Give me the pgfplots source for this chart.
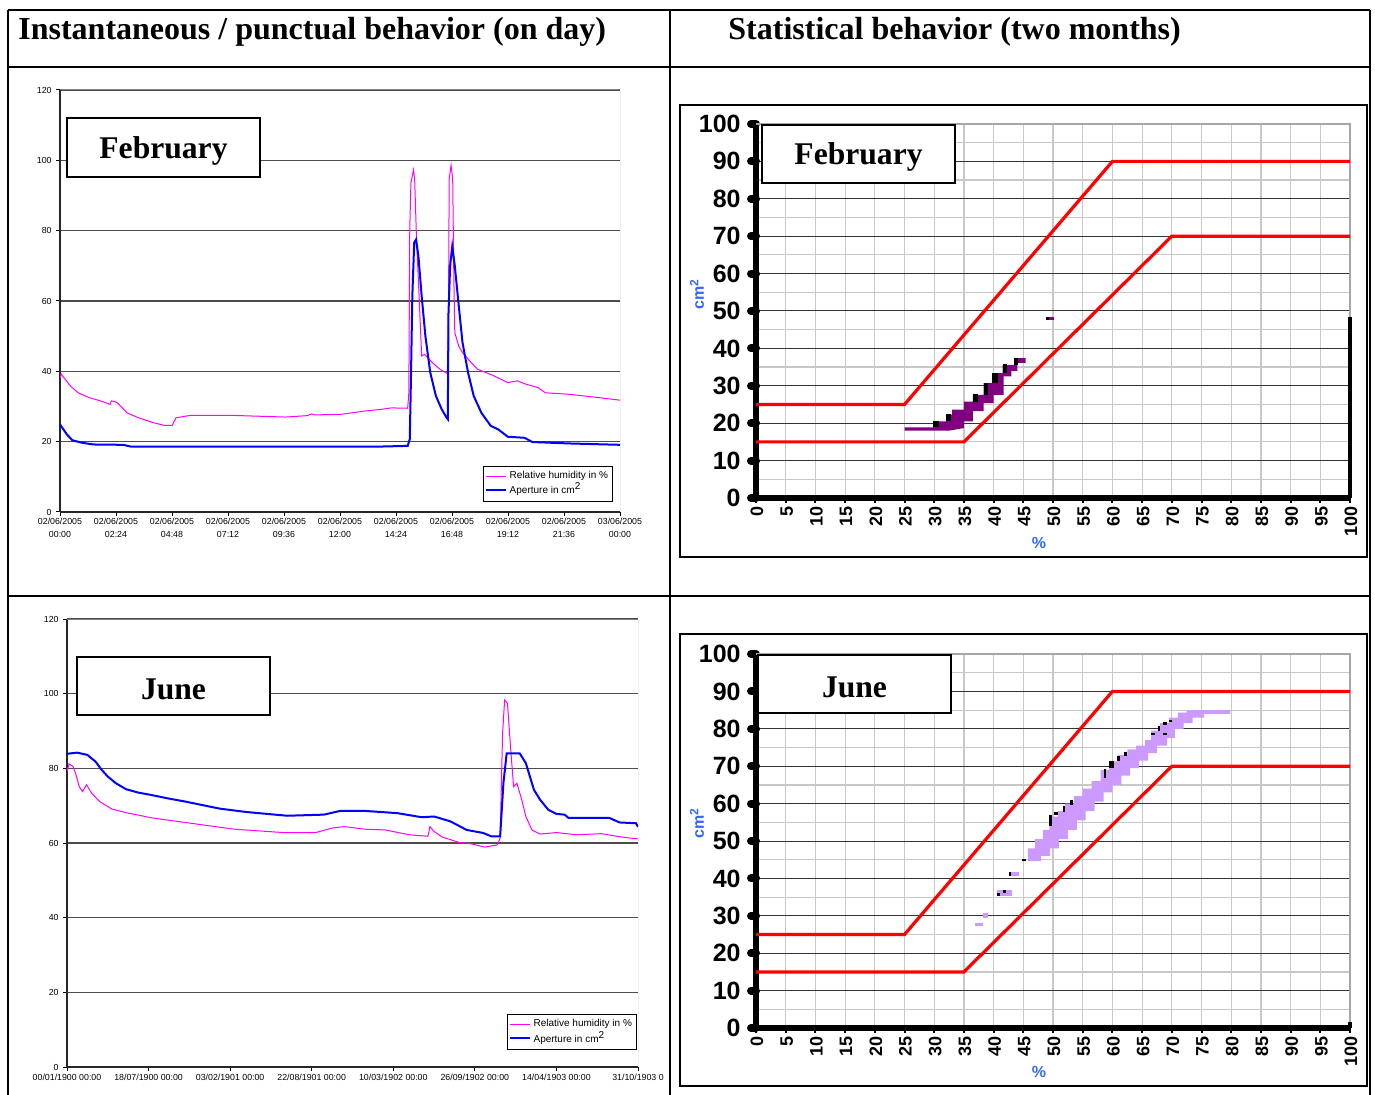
\documentclass[border=0pt]{standalone}
\usepackage{fontspec}
\setmainfont{Liberation Serif}
\newfontfamily\arial{Liberation Sans}
\usepackage{pgfplots}
\pgfplotsset{compat=1.18}
\definecolor{rhpink}{RGB}{255,0,255}
\definecolor{apblue}{RGB}{0,0,255}
\definecolor{lav}{RGB}{204,153,255}
\definecolor{purp}{RGB}{128,0,128}
\definecolor{lblue}{RGB}{51,102,255}
\definecolor{gridlight}{RGB}{200,200,200}
\newcommand{\fsz}[1]{\fontsize{#1pt}{#1pt}\selectfont}
\newcommand{\rect}[5]{\addplot[fill=#1, draw=none, forget plot] coordinates {(#2,#3) (#4,#3) (#4,#5) (#2,#5)};}

\pgfplotsset{
  leftchart/.style={
    scale only axis, anchor=south west,
    axis x line*=bottom, axis y line*=left,
    axis line style={-, black!85, line width=0.6pt},
    ymin=0, ymax=120, ytick={0,20,...,120},
    yticklabels={0,20,40,60,80,100,120},
    ymajorgrids, major grid style={black!70, line width=0.7pt},
    tick align=outside, major tick length=2pt,
    every tick/.style={black, line width=0.5pt},
    yticklabel style={font=\arial\fsz{4.4}, inner sep=1pt, xshift=-1pt},
    legend cell align=left,
    legend image code/.code={\draw[##1] (0pt,0pt) -- (10pt,0pt);},
    legend style={draw=black, line width=0.5pt, font=\arial\fsz{5}, inner sep=1pt,
      row sep=-1.5pt, nodes={inner sep=1.2pt}},
  },
  rightchart/.style={
    scale only axis, anchor=south west, width=297pt, height=187pt,
    xmin=0, xmax=100, ymin=0, ymax=100, clip=false,
    axis x line*=bottom, axis y line*=left,
    axis line style={-, black, line width=2.8pt},
    xtick={0,5,...,100}, ytick={0,10,...,100}, minor ytick={5,15,...,95},
    xticklabels={0,5,10,15,20,25,30,35,40,45,50,55,60,65,70,75,80,85,90,95,100},
    yticklabels={0,10,20,30,40,50,60,70,80,90,100},
    xmajorgrids, ymajorgrids, yminorgrids,
    major x grid style={gridlight, line width=0.6pt},
    major y grid style={black!80, line width=0.5pt},
    minor y grid style={gridlight, line width=0.6pt},
    tick align=outside, major tick length=2.5pt, minor tick length=0pt,
    every major y tick/.style={black, line width=4pt, line cap=round},
    every major x tick/.style={black, line width=1pt},
    yticklabel style={font=\arial\bfseries\fsz{12.5}, inner sep=1.5pt, xshift=-3.5pt},
    xticklabel style={font=\arial\bfseries\fsz{9}, rotate=90, anchor=east, inner sep=1.5pt, yshift=-0.5pt},
  },
}

\begin{document}
\begin{tikzpicture}
\begin{scope}[x=0.5pt,y=0.5pt]
\useasboundingbox (0,0) rectangle (1375,-1095);
\fill[white] (0,0) rectangle (1375,-1095);
\draw[line width=1pt] (8,-10) -- (1370,-10);
\draw[line width=1pt] (8,-10) -- (8,-1100);
\draw[line width=1pt] (1370,-10) -- (1370,-1100);
\draw[line width=1pt] (670,-10) -- (670,-1100);
\draw[line width=1pt] (8,-67) -- (1370,-67);
\draw[line width=1pt] (8,-596) -- (1370,-596);
\node[anchor=base west, inner sep=0pt, font=\bfseries\fsz{16}] at (18,-40) {Instantaneous / punctual behavior (on day)};
\node[anchor=base west, inner sep=0pt, font=\bfseries\fsz{16}] at (728,-40) {Statistical behavior (two months)};
\draw[line width=1pt] (680,-105) rectangle (1367,-557);
\draw[line width=1pt] (680,-634) rectangle (1367,-1086);
\end{scope}

% ---------- February, one day ----------
\begin{axis}[leftchart, at={(30pt,-256pt)}, width=280pt, height=211pt,
  xmin=0, xmax=24,
  xtick={0,2.4,4.8,7.2,9.6,12,14.4,16.8,19.2,21.6,24},
  xticklabels={{02/06/2005\\00:00},{02/06/2005\\02:24},{02/06/2005\\04:48},{02/06/2005\\07:12},{02/06/2005\\09:36},{02/06/2005\\12:00},{02/06/2005\\14:24},{02/06/2005\\16:48},{02/06/2005\\19:12},{02/06/2005\\21:36},{03/06/2005\\00:00}},
  xticklabel style={align=center, font=\arial\fontsize{4.4pt}{6.5pt}\selectfont, inner sep=1pt},
  legend style={at={(0.9875,0.109)}, anchor=north east},
]
\addplot[rhpink, line width=0.5pt] coordinates {
(0,38)(0.05,39.2)(0.45,35.8)(0.78,33.9)(1.26,32.5)(1.74,31.6)(2.15,30.6)(2.2,31.6)(2.35,31.4)(2.47,31)(2.87,28.2)(3.36,26.8)(4.0,25.4)(4.49,24.6)(4.81,24.6)(4.97,26.8)(5.62,27.5)(7.24,27.5)(8.2,27.3)(9.66,27.0)(10.6,27.4)(10.79,27.9)(10.9,27.6)(12.08,27.8)(13.05,28.7)(13.78,29.2)(14.2,29.6)(14.9,29.5)(14.95,33.9)(14.99,80.4)(15.04,93.6)(15.15,97.3)(15.2,94.6)(15.28,77.5)(15.39,61.4)(15.5,44.4)(15.63,44.8)(15.96,42.5)(16.28,40.6)(16.6,39.4)(16.65,56.7)(16.68,94.6)(16.76,98.6)(16.83,94.6)(16.88,66.2)(16.92,51.0)(17.09,47.2)(17.25,45.3)(17.57,42.9)(17.89,40.6)(18.54,38.9)(19.19,36.8)(19.59,37.3)(19.99,36.3)(20.48,35.4)(20.8,33.9)(21.77,33.5)(22.74,32.8)(24,31.8)};
\addlegendentry{Relative humidity in \%}
\addplot[apblue, line width=1pt] coordinates {
(0,24.9)(0.29,22.1)(0.53,20.4)(0.94,19.7)(1.42,19.2)(2.71,19.1)(3.04,18.6)(13.7,18.6)(14.9,18.8)(14.99,20.7)(15.04,37.7)(15.1,61.4)(15.18,76.6)(15.26,77.5)(15.36,72.8)(15.5,61.4)(15.66,50.0)(15.87,39.6)(16.11,33.0)(16.36,29.2)(16.57,26.8)(16.62,26.4)(16.65,56.7)(16.72,70.0)(16.81,75.5)(16.92,70.0)(17.09,58.6)(17.25,48.2)(17.49,39.6)(17.73,33.0)(18.06,28.2)(18.46,24.5)(18.78,23.5)(19.19,21.4)(19.91,21.1)(20.24,19.9)(21.77,19.5)(24,19.1)};
\addlegendentry{Aperture in cm\textsuperscript{2}}
\draw[gray, line width=0.5pt] (rel axis cs:0,1) -- (rel axis cs:1,1) -- (rel axis cs:1,0);
\end{axis}

% ---------- June, one day ----------
\begin{axis}[leftchart, at={(33.5pt,-533.5pt)}, width=285.5pt, height=224pt,
  xmin=0, xmax=7, xtick={0,1,...,7},
  xticklabels={00/01/1900 00:00,18/07/1900 00:00,03/02/1901 00:00,22/08/1901 00:00,10/03/1902 00:00,26/09/1902 00:00,14/04/1903 00:00,31/10/1903 0},
  xticklabel style={font=\arial\fsz{4.4}, inner sep=1.5pt},
  legend style={at={(0.998,0.118)}, anchor=north east},
]
\addplot[rhpink, line width=0.5pt] coordinates {
(0,79.1)(0.025,81.2)(0.075,80.5)(0.11,78.3)(0.15,75.1)(0.19,73.8)(0.24,75.6)(0.3,73.4)(0.4,71.1)(0.55,69.1)(0.75,68.0)(1.05,66.7)(1.55,65.2)(2.05,63.7)(2.45,63.1)(2.65,62.8)(3.05,62.8)(3.25,64.0)(3.4,64.4)(3.65,63.7)(3.9,63.5)(4.2,62.2)(4.425,61.8)(4.45,64.4)(4.5,63.1)(4.6,61.6)(4.8,60.2)(4.95,59.8)(5.125,58.9)(5.275,59.5)(5.31,61.3)(5.34,89.4)(5.365,98.3)(5.4,97.4)(5.44,84.9)(5.475,75.1)(5.515,76.0)(5.575,71.6)(5.625,67.1)(5.7,63.5)(5.8,62.4)(6.0,62.8)(6.25,62.2)(6.55,62.5)(6.8,61.6)(7.0,61.1)};
\addlegendentry{Relative humidity in \%}
\addplot[apblue, line width=1pt] coordinates {
(0,83.9)(0.125,84.2)(0.25,83.6)(0.35,81.8)(0.425,79.6)(0.5,77.8)(0.6,76.0)(0.725,74.4)(0.875,73.5)(1.025,72.9)(1.225,72.0)(1.45,71.1)(1.65,70.2)(1.875,69.2)(2.2,68.3)(2.7,67.3)(3.15,67.6)(3.35,68.6)(3.65,68.6)(4.05,68.0)(4.35,66.9)(4.5,67.1)(4.7,65.8)(4.9,63.5)(5.1,62.7)(5.2,61.8)(5.31,61.8)(5.35,76.0)(5.39,84.0)(5.55,84.0)(5.625,81.4)(5.675,77.8)(5.725,74.2)(5.8,71.6)(5.9,68.9)(6.0,67.8)(6.1,67.6)(6.15,66.7)(6.65,66.7)(6.775,65.5)(6.975,65.3)(7.0,64.3)};
\addlegendentry{Aperture in cm\textsuperscript{2}}
\draw[gray, line width=0.5pt] (rel axis cs:0,1) -- (rel axis cs:1,1) -- (rel axis cs:1,0);
\end{axis}

% ---------- February, statistics ----------
\begin{axis}[rightchart, at={(378pt,-249pt)}]
\draw[gray!70, line width=1pt] (rel axis cs:0,1) -- (rel axis cs:1,1) -- (rel axis cs:1,0);
\addplot[fill=purp, draw=none] coordinates {(25,18)(32.5,18)(35,18.7)(35,20.5)(36.5,20.5)(36.5,23.2)(38.3,23.2)(38.3,25.4)(40,25.4)(40,27.6)(41.7,27.6)(41.7,32.5)(43,32.5)(43,34)(44,34)(44,36.1)(45.4,36.1)(45.4,37.4)(43.5,37.4)(43.5,35.6)(41.5,35.6)(41.5,33.4)(39.8,33.4)(39.8,30.7)(38.3,30.7)(38.3,27.6)(36.5,27.6)(36.5,25.8)(35,25.8)(35,23.6)(33,23.6)(33,22.3)(32,22.3)(32,20.5)(29.8,20.5)(29.8,18.9)(25,18.9)};
\rect{black}{29.8}{18.9}{30.8}{20.6}
\rect{black}{32}{20.5}{32.9}{22.4}
\rect{black}{36.5}{25.8}{37.4}{27.7}
\rect{black}{38.3}{27.6}{39.1}{30.8}
\rect{black}{39.8}{30.7}{40.7}{33.5}
\rect{black}{41.5}{33.4}{42.3}{35.7}
\rect{black}{43.5}{35.6}{44.1}{37.5}
\rect{purp}{48.9}{47.7}{50.2}{48.4}
\rect{black}{48.9}{47.7}{49.3}{48.4}
\addplot[red, line width=1.6pt] coordinates {(0,25)(25,25)(60,90)(100,90)};
\addplot[red, line width=1.6pt] coordinates {(0,15)(35,15)(70,70)(100,70)};
\addplot[black, line width=1.6pt] coordinates {(100,48.5)(100,0)};
\end{axis}

% ---------- June, statistics ----------
\begin{axis}[rightchart, at={(378pt,-514pt)}]
\draw[gray!70, line width=1pt] (rel axis cs:0,1) -- (rel axis cs:1,1) -- (rel axis cs:1,0);
\addplot[fill=lav, draw=none] coordinates {(45.8,45)(45.8,48)(47,48)(47,50.5)(48.3,50.5)(48.3,53)(49.4,53)(49.4,56.5)(50.8,56.5)(50.8,58)(52,58)(52,60)(53.5,60)(53.5,62)(55,62)(55,64)(56.5,64)(56.5,66)(58,66)(58,69)(59.5,69)(59.5,71.3)(61,71.3)(61,73)(62.5,73)(62.5,74.5)(64,74.5)(64,75.5)(65.5,75.5)(65.5,77)(66.5,77)(66.5,79.5)(68,79.5)(68,81.5)(69.5,81.5)(69.5,83)(71,83)(71,84.3)(72.5,84.3)(72.5,85)(79.8,85)(79.8,84)(75.4,84)(75.4,83)(73.5,83)(73.5,81.5)(72,81.5)(72,80)(70.5,80)(70.5,77.5)(69.2,77.5)(69.2,75.5)(67.5,75.5)(67.5,73.5)(66,73.5)(66,71.5)(64.5,71.5)(64.5,69.5)(63,69.5)(63,67.5)(61.5,67.5)(61.5,65)(60,65)(60,63)(58.5,63)(58.5,60.5)(57,60.5)(57,58)(55.5,58)(55.5,55.5)(54,55.5)(54,53)(52.5,53)(52.5,50.5)(51,50.5)(51,48)(49.5,48)(49.5,46)(48,46)(48,44.6)(45.8,44.6)};
\rect{lav}{36.8}{27.4}{38.2}{28.1}
\rect{lav}{38.2}{29.4}{39.1}{30.7}
\rect{lav}{40.5}{35.4}{43.1}{36.8}
\rect{black}{40.5}{35.4}{41.1}{36.1}
\rect{black}{41.6}{36.1}{42.1}{36.8}
\rect{lav}{42.6}{40.6}{44.3}{41.6}
\rect{black}{42.6}{40.6}{43.0}{41.6}
\rect{black}{44.8}{44.6}{45.4}{45.2}
\rect{black}{49.4}{53.9}{49.9}{57}
\rect{black}{50.2}{57}{50.9}{57.7}
\rect{black}{51.7}{57.7}{52.1}{59.4}
\rect{black}{52.8}{59.7}{53.3}{61}
\rect{black}{58.5}{66.8}{58.9}{69.2}
\rect{black}{59.5}{69.5}{60.2}{71.3}
\rect{black}{60.7}{71.3}{61.2}{72.8}
\rect{black}{61.9}{72.8}{62.4}{73.7}
\rect{black}{66.5}{78.4}{67.1}{79}
\rect{black}{67.6}{79.3}{68}{80.8}
\rect{black}{68.6}{81}{69.2}{81.7}
\rect{black}{68.6}{78.4}{69.2}{79}
\rect{black}{69.6}{81.7}{70.1}{82.4}
\addplot[red, line width=1.6pt] coordinates {(0,25)(25,25)(60,90)(100,90)};
\addplot[red, line width=1.6pt] coordinates {(0,15)(35,15)(70,70)(100,70)};
\addplot[black, line width=1.6pt] coordinates {(100,1.5)(100,0)};
\end{axis}

\begin{scope}[x=0.5pt,y=0.5pt]
\draw[line width=1pt, fill=white] (67,-118) rectangle (260,-177);
\node[font=\bfseries\fsz{15.8}] at (163.5,-151) {February};
\draw[line width=1pt, fill=white] (77,-657) rectangle (270,-715);
\node[font=\bfseries\fsz{15.8}] at (173.5,-689) {June};
\draw[line width=1pt, fill=white] (762,-125) rectangle (955,-183);
\node[font=\bfseries\fsz{15.8}] at (858.5,-157) {February};
\draw[line width=1pt, fill=white] (758,-655) rectangle (951,-713);
\node[font=\bfseries\fsz{15.8}] at (854.5,-687) {June};
\node[rotate=90, text=lblue, font=\arial\bfseries\fsz{8}] at (697,-294) {cm\textsuperscript{2}};
\node[text=lblue, font=\arial\bfseries\fsz{8}] at (1039,-543) {\%};
\node[rotate=90, text=lblue, font=\arial\bfseries\fsz{8}] at (697,-823) {cm\textsuperscript{2}};
\node[text=lblue, font=\arial\bfseries\fsz{8}] at (1039,-1072) {\%};
\end{scope}
\end{tikzpicture}
\end{document}
